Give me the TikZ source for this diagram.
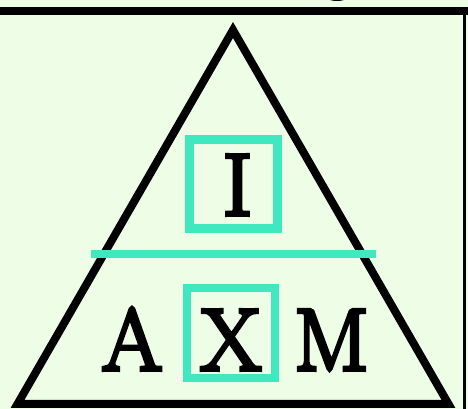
\documentclass[tikz,border=0pt]{standalone}
\usepackage{fontspec}
\newfontfamily\letterfont{Latin Modern Roman}[FakeBold=4.5]
\usetikzlibrary{calc}
\definecolor{bgc}{RGB}{238,254,230}
\definecolor{teal}{RGB}{64,232,192}
\tikzset{
  frameline/.style={line width=8pt, black},
  tri/.style={line width=8pt, black, line join=miter},
  tealbox/.style={draw=teal, line width=8.5pt},
  tealline/.style={draw=teal, line width=8pt},
  letter/.style={inner sep=0pt, anchor=base, font=\letterfont\fontsize{88}{88}\selectfont},
}
\begin{document}
\begin{tikzpicture}[x=1pt,y=1pt]
\useasboundingbox (0,0) rectangle (468,409);
\fill[bgc] (0,0) rectangle (468,409);
\begin{scope}
\clip (0,0) rectangle (468,409);
% fragment of text above (descender)
\fill[black] (337,411.5) ellipse (10 and 3.5);
% frame
\draw[frameline] (-5,398) -- (468,398);
\draw[black, line width=3pt] (464.5,402) -- (464.5,-5);
% triangle
\coordinate (tl) at (17.5,5);
\coordinate (tt) at (233,379);
\coordinate (tr) at (448.5,5);
\draw[tri] (tl) -- (tt) -- (tr) -- cycle;
% divider
\coordinate (dl) at (91,155);
\coordinate (dr) at (376,155);
\draw[tealline] (dl) -- (dr);
% boxes
\node[tealbox, minimum width=88pt, minimum height=89pt, inner sep=0pt] (boxI) at (233.5,225) {};
\node[tealbox, minimum width=88pt, minimum height=90pt, inner sep=0pt] (boxX) at (231,76) {};
% letters
\node[letter] (I) at (237.5,194) {I};
\node[letter] (A) at (132,39) {A};
\node[letter] (X) at (231,39) {X};
\node[letter] (M) at (331.5,39) {M};
\end{scope}
\end{tikzpicture}
\end{document}
